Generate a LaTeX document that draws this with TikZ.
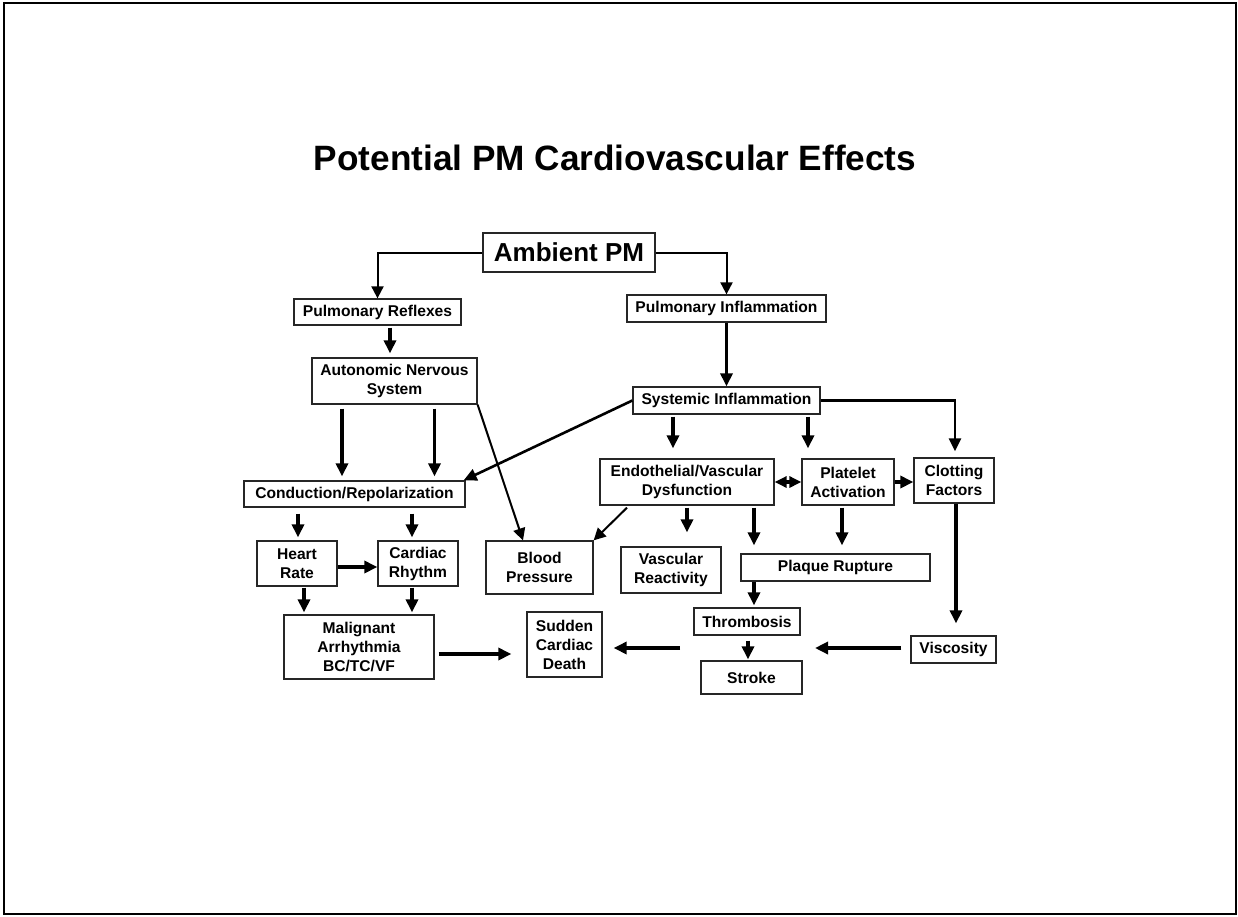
\documentclass[tikz,border=0pt]{standalone}
\usepackage{fontspec}
\setmainfont{Liberation Sans}
\usetikzlibrary{arrows.meta}
\begin{document}
\begin{tikzpicture}[x=1pt,y=-1pt,
  box/.style={draw=black!85, line width=1.3pt, inner sep=0pt, align=center,
    font=\fontsize{15.6}{19}\selectfont\bfseries},
  thk/.style={line width=3.6pt, -{Triangle[length=13pt,width=12pt]}},
  med/.style={line width=2.6pt, -{Triangle[length=13pt,width=12pt]}},
  thn/.style={line width=2pt, -{Triangle[length=12pt,width=12pt]}},
  dbl/.style={line width=3.6pt, {Triangle[length=12pt,width=11pt]}-{Triangle[length=12pt,width=11pt]}}
]
\useasboundingbox (0,0) rectangle (1238,916);
\draw[line width=2.2pt] (4,3) rectangle (1236,914);

\node[anchor=base, font=\fontsize{35.2}{40}\selectfont\bfseries] (title) at (615,170) {Potential PM Cardiovascular Effects};

\node[box, minimum width=172pt, minimum height=39pt, font=\fontsize{26}{30}\selectfont\bfseries] (amb) at (569,252.5) {Ambient PM};
\node[box, minimum width=167pt, minimum height=26pt] (pr) at (377.5,312) {Pulmonary Reflexes};
\node[box, minimum width=199pt, minimum height=27pt] (pi) at (726.5,308.5) {Pulmonary Inflammation};
\node[box, minimum width=165pt, minimum height=46pt] (ans) at (394.5,381) {Autonomic Nervous\\System};
\node[box, minimum width=187pt, minimum height=27pt] (si) at (726.5,400.5) {Systemic Inflammation};
\node[box, minimum width=174pt, minimum height=46pt] (endo) at (687,482) {Endothelial/Vascular\\Dysfunction};
\node[box, minimum width=92pt, minimum height=46pt] (plat) at (848,482) {Platelet\\Activation};
\node[box, minimum width=80pt, minimum height=45pt] (clot) at (954,480.5) {Clotting\\Factors};
\node[box, minimum width=100pt, minimum height=46pt] (vr) at (671,570) {Vascular\\Reactivity};
\node[box, minimum width=189pt, minimum height=27pt] (plaq) at (835.5,567.5) {Plaque Rupture};
\node[box, minimum width=221pt, minimum height=26pt] (cond) at (354.5,494) {Conduction/Repolarization};
\node[box, minimum width=80pt, minimum height=45pt] (hr) at (297,563.5) {Heart\\Rate};
\node[box, minimum width=80pt, minimum height=45pt] (cr) at (418,563.5) {Cardiac\\Rhythm};
\node[box, minimum width=107pt, minimum height=53pt] (bp) at (539.5,567.5) {Blood\\Pressure};
\node[box, minimum width=150pt, minimum height=64pt] (mal) at (359,647) {Malignant\\Arrhythmia\\BC/TC/VF};
\node[box, minimum width=75pt, minimum height=65pt] (scd) at (564.5,644.5) {Sudden\\Cardiac\\Death};
\node[box, minimum width=106pt, minimum height=27pt] (thr) at (747,621.5) {Thrombosis};
\node[box, minimum width=101pt, minimum height=33pt] (str) at (751.5,677.5) {Stroke};
\node[box, minimum width=85pt, minimum height=27pt] (vis) at (953.5,649.5) {Viscosity};

\coordinate (vend) at (815,648);
\coordinate (sstart) at (680,648);

\draw[thn] (amb.west) -| (pr.north);
\draw[thn] (amb.east) -| (pi.north);
\draw[thk] ([xshift=12.5pt,yshift=-2pt]pr.south) -- ([xshift=-4.5pt,yshift=4pt]ans.north);
\draw[thk] (pi.south) -- (si.north);
\draw[thk] ([xshift=-52.5pt,yshift=-4pt]ans.south) -- ([xshift=-12.5pt,yshift=4pt]cond.north);
\draw[thk] ([xshift=40pt,yshift=-4pt]ans.south) -- ([xshift=80pt,yshift=4pt]cond.north);
\draw[thn] (ans.south east) -- ([xshift=-16.5pt]bp.north);
\draw[med] (si.west) -- ([xshift=-2pt]cond.north east);
\draw[thk] ([xshift=-53.5pt,yshift=-2pt]si.south) -- ([xshift=-14pt,yshift=10pt]endo.north);
\draw[thk] ([xshift=81.5pt,yshift=-2pt]si.south) -- ([xshift=-40pt,yshift=10pt]plat.north);
\draw[med] (si.east) -| ([xshift=1pt,yshift=6pt]clot.north);
\draw[dbl] (endo.east) -- (plat.west);
\draw[thk] (plat.east) -- (plat.east -| clot.west);
\draw[thn] ([xshift=-60pt,yshift=-2pt]endo.south) -- (bp.north east);
\draw[thk] ([yshift=-2pt]endo.south) -- ([xshift=16pt,yshift=14pt]vr.north);
\draw[thk] ([xshift=67pt,yshift=-2pt]endo.south) -- ([xshift=-81.5pt,yshift=8pt]plaq.north);
\draw[thk] ([xshift=-6pt,yshift=-2pt]plat.south) -- ([xshift=6.5pt,yshift=8pt]plaq.north);
\draw[thk] ([xshift=2pt]clot.south) -- ([xshift=2.5pt,yshift=12pt]vis.north);
\draw[thk] ([xshift=-81.5pt]plaq.south) -- ([xshift=7pt,yshift=2pt]thr.north);
\draw[thk] ([xshift=1pt,yshift=-5pt]thr.south) -- ([xshift=-3.5pt,yshift=1pt]str.north);
\draw[thk] ([xshift=-9pt,yshift=1.5pt]vis.west) -- (vend);
\draw[thk] (sstart) -- ([xshift=11pt,yshift=-3.5pt]scd.east);
\draw[thk] ([xshift=4pt,yshift=-7pt]mal.east) -- ([xshift=-15pt,yshift=-9.5pt]scd.west);
\draw[thk] ([yshift=-3.5pt]hr.east) -- ([yshift=-3.5pt]cr.west);
\draw[thk] ([xshift=-56.5pt,yshift=-6pt]cond.south) -- ([xshift=1pt,yshift=3pt]hr.north);
\draw[thk] ([xshift=57.5pt,yshift=-6pt]cond.south) -- ([xshift=-6pt,yshift=3pt]cr.north);
\draw[thk] ([xshift=7pt,yshift=-1pt]hr.south) -- ([xshift=-55pt,yshift=2pt]mal.north);
\draw[thk] ([xshift=-6pt,yshift=-1pt]cr.south) -- ([xshift=53pt,yshift=2pt]mal.north);
\end{tikzpicture}
\end{document}
